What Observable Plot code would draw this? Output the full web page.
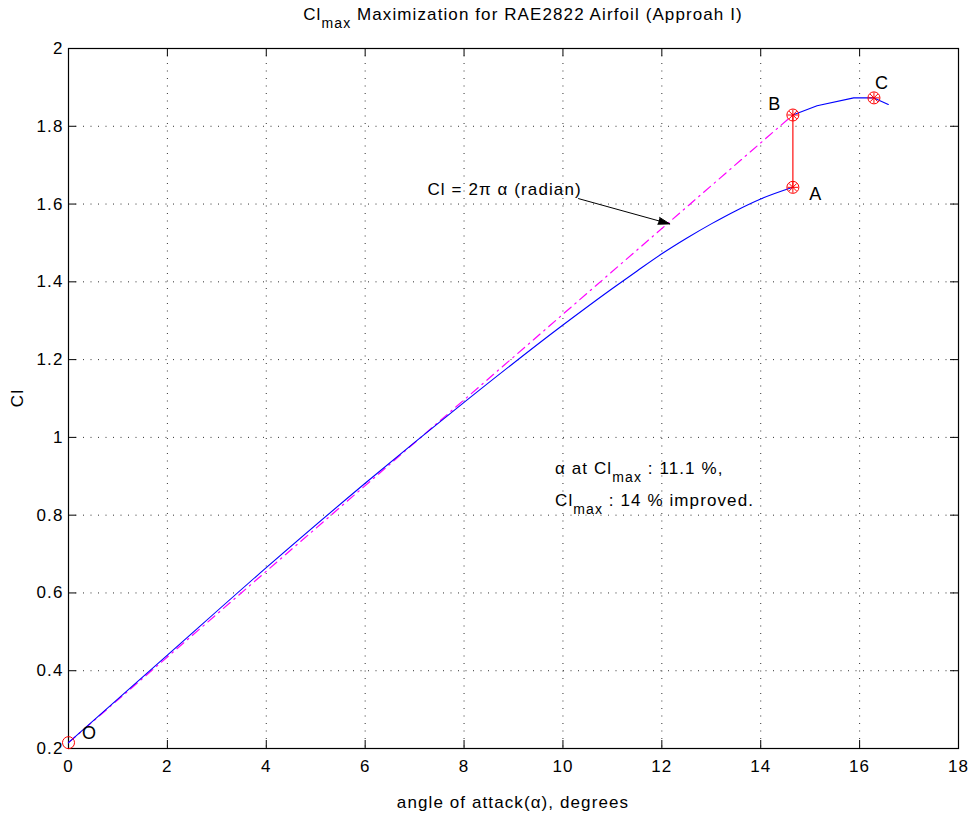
<!DOCTYPE html>
<html><head><meta charset="utf-8">
<script src="https://cdn.jsdelivr.net/npm/d3@7"></script>
<script src="https://cdn.jsdelivr.net/npm/@observablehq/plot@0.6"></script>
<style>
body{margin:0;background:#fff}
#chart svg{font-family:"Liberation Sans",Arial,Helvetica,sans-serif;}
#chart svg text{letter-spacing:1.1px;}
</style>
</head><body><div id="chart"></div>
<script>
// ---- data ----
const xTicks = [0, 2, 4, 6, 8, 10, 12, 14, 16, 18];
const yTicks = [0.2, 0.4, 0.6, 0.8, 1, 1.2, 1.4, 1.6, 1.8, 2];

// blue Cl curve (baseline airfoil), O -> A
const lowerAlpha = [0, 2, 4, 6, 8, 10, 11, 11.5, 12, 12.5, 13, 13.5, 14, 14.65];
const lowerCl    = [0.215, 0.44, 0.665, 0.882, 1.09, 1.289, 1.383, 1.428, 1.472, 1.512, 1.549, 1.583, 1.613, 1.643];

// blue Cl curve (optimized airfoil), B -> beyond C
const upperAlpha = [14.65, 15.14, 15.88, 16.29, 16.58];
const upperCl    = [1.829, 1.853, 1.873, 1.873, 1.856];

// thin-airfoil theory line Cl = 2*pi*alpha
const thinAlpha = [0, 14.65];
const thinCl    = [0.215, 1.829];

// A -> B jump
const jumpAlpha = [14.65, 14.65];
const jumpCl    = [1.643, 1.829];

// labelled points
const pointNames = ["O", "A", "B", "C"];
const pointAlpha = [0, 14.65, 14.65, 16.29];
const pointCl    = [0.215, 1.643, 1.829, 1.873];

// annotation arrow (from text to thin-airfoil line)
const arrowFrom = [10.315, 1.614];
const arrowTo   = [12.16, 1.549];

// ---- tables ----
const toRows = (xs, ys) => xs.map((a, i) => ({alpha: a, cl: ys[i]}));
const lower = toRows(lowerAlpha, lowerCl);
const upper = toRows(upperAlpha, upperCl);
const thin = toRows(thinAlpha, thinCl);
const jump = toRows(jumpAlpha, jumpCl);
const points = pointNames.map((n, i) => ({name: n, alpha: pointAlpha[i], cl: pointCl[i]}));
const starPts = points.filter(d => d.name !== "O");

const W = 979, H = 819, mL = 68, mR = 21, mT = 48, mB = 71;
const innerW = W - mL - mR, innerH = H - mT - mB;
const TICK = 8;
const FS = 17;
const grid = {stroke: "#333", strokeOpacity: 1, strokeWidth: 1, strokeDasharray: "1,6.5"};

const labelOf = (name, dx, dy) => Plot.text(points.filter(d => d.name === name),
  {x: "alpha", y: "cl", text: "name", dx, dy, fontSize: FS + 1, fill: "black"});

const plot = Plot.plot({
  width: W, height: H,
  marginLeft: mL, marginRight: mR, marginTop: mT, marginBottom: mB,
  style: {background: "white", color: "black", fontSize: FS + "px", overflow: "visible"},
  x: {domain: [0, 18]},
  y: {domain: [0.2, 2]},
  marks: [
    Plot.gridX(xTicks, grid),
    Plot.gridY(yTicks, grid),
    // inward ticks (bottom, top, left, right)
    Plot.ruleX(xTicks, {x: d => d, insetTop: innerH - TICK, stroke: "black"}),
    Plot.ruleX(xTicks, {x: d => d, insetBottom: innerH - TICK, stroke: "black"}),
    Plot.ruleY(yTicks, {y: d => d, insetRight: innerW - TICK, stroke: "black"}),
    Plot.ruleY(yTicks, {y: d => d, insetLeft: innerW - TICK, stroke: "black"}),
    Plot.frame({stroke: "black", strokeWidth: 1.2}),
    Plot.axisX(xTicks, {tickSize: 0, tickPadding: 11, label: null, fontSize: FS, fill: "black"}),
    Plot.axisY(yTicks, {tickSize: 0, tickPadding: 5, label: null, fontSize: FS, fill: "black", tickFormat: d => String(d)}),
    // curves
    Plot.line(thin, {x: "alpha", y: "cl", stroke: "#ff00ff", strokeWidth: 1.2, strokeDasharray: "9,5,1.5,5"}),
    Plot.line(lower, {x: "alpha", y: "cl", stroke: "#0000ff", strokeWidth: 1.1, curve: "monotone-x"}),
    Plot.line(upper, {x: "alpha", y: "cl", stroke: "#0000ff", strokeWidth: 1.1}),
    Plot.line(jump, {x: "alpha", y: "cl", stroke: "#ff3030", strokeWidth: 1.4}),
    // markers
    Plot.dot(points, {x: "alpha", y: "cl", r: 6, stroke: "#ff0000", strokeWidth: 1, fill: "none"}),
    Plot.dot(starPts, {x: "alpha", y: "cl", r: 3.6, symbol: "plus", stroke: "#ff0000", strokeWidth: 1}),
    Plot.dot(starPts, {x: "alpha", y: "cl", r: 3.6, symbol: "times", stroke: "#ff0000", strokeWidth: 1}),
    // point labels
    labelOf("O", 21, -9),
    labelOf("A", 23, 7),
    labelOf("B", -18, -11),
    labelOf("C", 8, -15),
    // annotation arrow
    Plot.arrow([{x1: arrowFrom[0], y1: arrowFrom[1], x2: arrowTo[0], y2: arrowTo[1]}],
      {x1: "x1", y1: "y1", x2: "x2", y2: "y2", stroke: "black", fill: "black", strokeWidth: 1,
       headLength: 18, headAngle: 34, strokeLinejoin: "miter"}),
    Plot.text(["Cl = 2π α (radian)"], {x: 7.26, y: 1.637, text: d => d, textAnchor: "start", fontSize: FS, fill: "black"})
  ]
});

document.getElementById("chart").appendChild(plot);

// ---- texts with subscripts and axis titles ----
const svg = d3.select(plot);
const sx = plot.scale("x"), sy = plot.scale("y");
const SUB = 8, SUBFS = 14;

function subText(g, x, y, parts, anchor) {
  const t = g.append("text").attr("x", x).attr("y", y)
    .attr("font-size", FS).attr("fill", "black").attr("text-anchor", anchor || "start");
  let down = 0;
  parts.forEach(p => {
    const ts = t.append("tspan").text(p.t);
    if (p.sub) { ts.attr("dy", SUB - down).attr("font-size", SUBFS); down = SUB; }
    else { ts.attr("dy", -down); down = 0; }
  });
  return t;
}

const g = svg.append("g");
subText(g, 523, 20, [{t: "Cl"}, {t: "max", sub: true}, {t: " Maximization for RAE2822 Airfoil (Approah I)"}], "middle");
g.append("text").attr("x", sx.apply(9)).attr("y", 808).attr("text-anchor", "middle")
  .attr("font-size", FS).attr("fill", "black").text("angle of attack(α), degrees");
g.append("text").attr("transform", `translate(23,${sy.apply(1.1)}) rotate(-90)`).attr("text-anchor", "middle")
  .attr("font-size", FS).attr("fill", "black").text("Cl");

subText(g, sx.apply(9.85), sy.apply(0.92) + 6, [{t: "α at Cl"}, {t: "max", sub: true}, {t: " : 11.1 %,"}]);
subText(g, sx.apply(9.85), sy.apply(0.838) + 6, [{t: "Cl"}, {t: "max", sub: true}, {t: " : 14 % improved."}]);
</script>
</body></html>
